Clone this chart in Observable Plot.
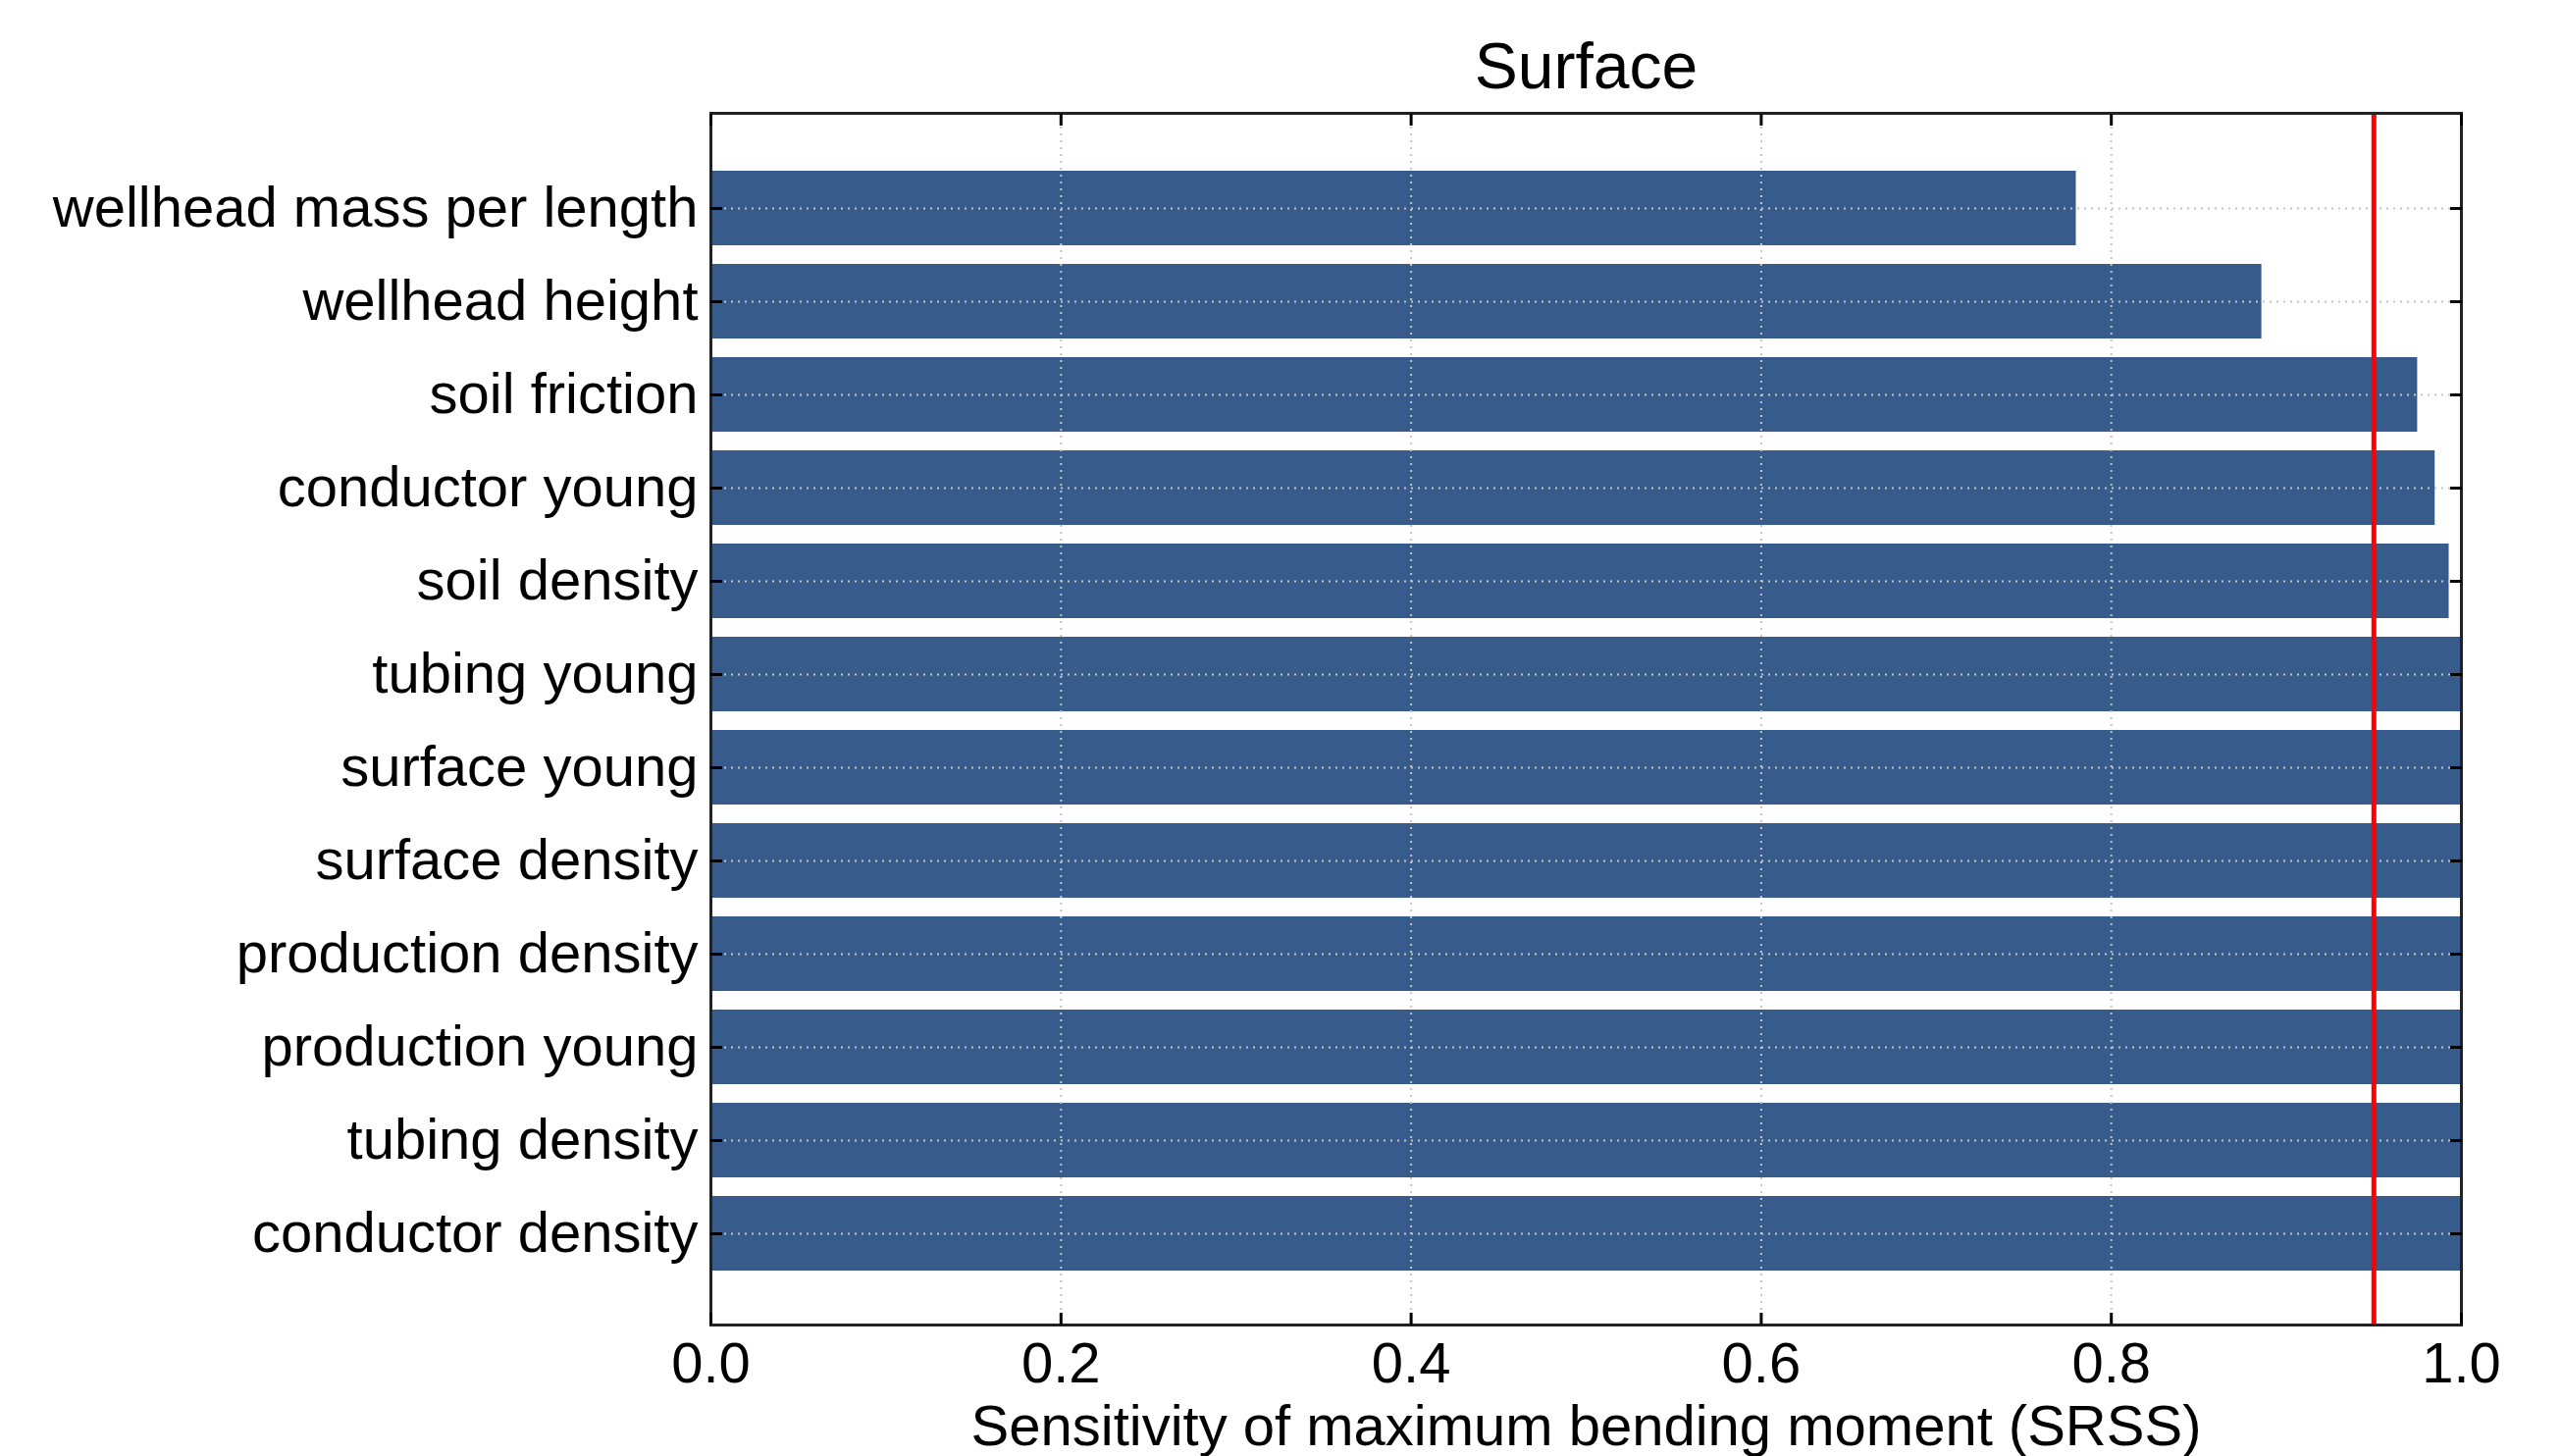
<!DOCTYPE html>
<html>
<head>
<meta charset="utf-8">
<script src="https://cdn.jsdelivr.net/npm/d3@7"></script>
<script src="https://cdn.jsdelivr.net/npm/@observablehq/plot@0.6"></script>
<style>
  html, body { margin: 0; padding: 0; background: #fff; }
</style>
</head>
<body>
<div id="chart"></div>
<script>
const categories = [
  "wellhead mass per length",
  "wellhead height",
  "soil friction",
  "conductor young",
  "soil density",
  "tubing young",
  "surface young",
  "surface density",
  "production density",
  "production young",
  "tubing density",
  "conductor density"
];
const values = [0.78, 0.886, 0.975, 0.985, 0.993, 1.0, 1.0, 1.0, 1.0, 1.0, 1.0, 1.0];
const threshold = [0.95];
const xTicks = [0.0, 0.2, 0.4, 0.6, 0.8, 1.0];
const title = "Surface";
const xLabel = "Sensitivity of maximum bending moment (SRSS)";

const data = categories.map((c, i) => ({name: c, value: values[i]}));

const W = 2611, H = 1484;
const chart = Plot.plot({
  width: W,
  height: H,
  marginLeft: 724,
  marginRight: 103,
  marginTop: 115,
  marginBottom: 134,
  style: {fontFamily: "'Liberation Sans', Arial, sans-serif", fontSize: "58px", color: "black", background: "white"},
  x: {domain: [0, 1], ticks: xTicks, tickFormat: d3.format(".1f"), label: null},
  y: {domain: categories, paddingInner: 0.2, paddingOuter: 0.578, align: 0.515, label: null},
  marks: [
    Plot.barX(data, {y: "name", x: "value", fill: "#375c8c", clip: true}),
    Plot.gridX({ticks: xTicks.slice(1, -1), stroke: "#c4c4c4", strokeOpacity: 1, strokeWidth: 2, strokeDasharray: "2,5"}),
    Plot.gridY({stroke: "#c4c4c4", strokeOpacity: 1, strokeWidth: 2, strokeDasharray: "2,5"}),
    Plot.ruleX(threshold, {stroke: "#ff0000", strokeWidth: 5}),
    Plot.frame({stroke: "#222", strokeWidth: 3}),
    Plot.axisY({anchor: "left", tickSize: -12, tickPadding: 25, strokeWidth: 3, label: null}),
    Plot.axisY({anchor: "right", tickSize: -12, strokeWidth: 3, tickFormat: () => "", label: null}),
    Plot.axisX({anchor: "bottom", ticks: xTicks, tickSize: -12, tickPadding: 29, strokeWidth: 3, tickFormat: d3.format(".1f"), label: null}),
    Plot.axisX({anchor: "top", ticks: xTicks, tickSize: -12, strokeWidth: 3, tickFormat: () => "", label: null}),
    Plot.text([title], {frameAnchor: "top", dy: -47, lineAnchor: "middle", fontSize: 66, text: d => d}),
    Plot.text([xLabel], {frameAnchor: "bottom", dy: 104, lineAnchor: "middle", fontSize: 58, text: d => d})
  ]
});
document.getElementById("chart").appendChild(chart);
</script>
</body>
</html>
